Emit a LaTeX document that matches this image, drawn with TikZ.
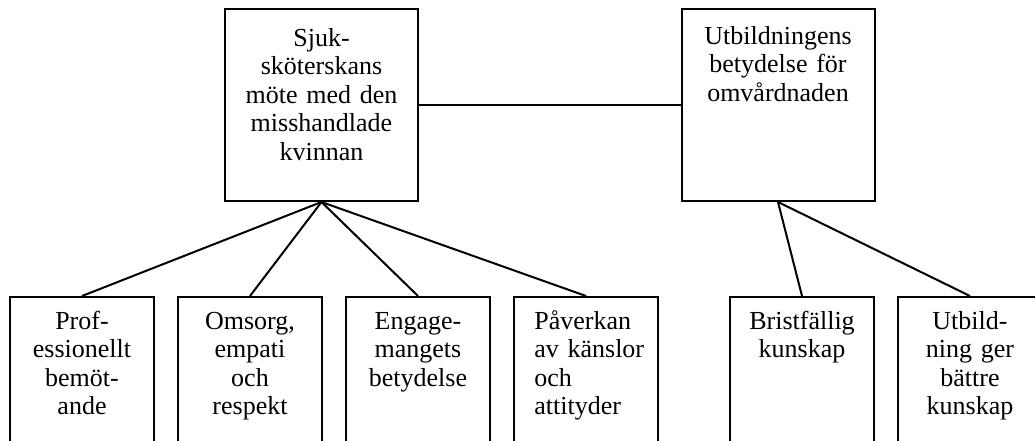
\documentclass[tikz,border=0pt]{standalone}
\usepackage{fontspec}
\setmainfont{Liberation Serif}
\usetikzlibrary{positioning}
\tikzset{
  box/.style={draw, line width=1pt, minimum width=72pt, minimum height=86.5pt},
  bigbox/.style={draw, line width=1pt, minimum width=96.5pt, minimum height=96pt},
  txt/.style={text width=90pt, align=center, anchor=base, inner sep=0pt,
    font=\fontsize{13}{14.3}\selectfont},
  link/.style={line width=1pt}
}

\begin{document}
\begin{tikzpicture}[x=0.5pt, y=-0.5pt]
\useasboundingbox (0,0) rectangle (1035,440);
\clip (0,0) rectangle (1035,440);
% top row
\node[bigbox] (moete) at (321.5,105) {};
\node[bigbox] (utb) at (778,105) {};
\node[txt] (moetetxt) at ([yshift=-19pt]moete.north) {Sjuk-\\sköterskans\\möte med den\\misshandlade\\kvinnan};
\node[txt] (utbtxt) at ([yshift=-18pt]utb.north) {Utbildningens\\betydelse för\\omvårdnaden};
% bottom row
\node[box] (prof) at (82,383.5) {};
\node[box] (omsorg) at (250,383.5) {};
\node[box] (engage) at (418,383.5) {};
\node[box] (paverk) at (586,383.5) {};
\node[box] (brist) at (802,383.5) {};
\node[box] (battre) at (970,383.5) {};
\node[txt, text width=70pt] (proftxt) at ([yshift=-16.5pt]prof.north) {Prof-\\essionellt\\bemöt-\\ande};
\node[txt, text width=70pt] (omsorgtxt) at ([yshift=-16.5pt]omsorg.north) {Omsorg,\\empati\\och\\respekt};
\node[txt, text width=70pt] (engagetxt) at ([yshift=-16.5pt]engage.north) {Engage-\\mangets\\betydelse};
\node[txt, text width=60pt, align=left, anchor=base west] (paverktxt) at ([xshift=10.5pt,yshift=-16.5pt]paverk.north west) {Påverkan\\av känslor\\och\\attityder};
\node[txt, text width=70pt] (bristtxt) at ([yshift=-16.5pt]brist.north) {Bristfällig\\kunskap};
\node[txt, text width=70pt] (battretxt) at ([yshift=-16.5pt]battre.north) {Utbild-\\ning ger\\bättre\\kunskap};
% connectors
\draw[link] (moete.east) -- (utb.west);
\foreach \n in {prof,omsorg,engage,paverk}
  \draw[link] (moete.south) -- (\n.north);
\foreach \n in {brist,battre}
  \draw[link] (utb.south) -- (\n.north);
\end{tikzpicture}
\end{document}
